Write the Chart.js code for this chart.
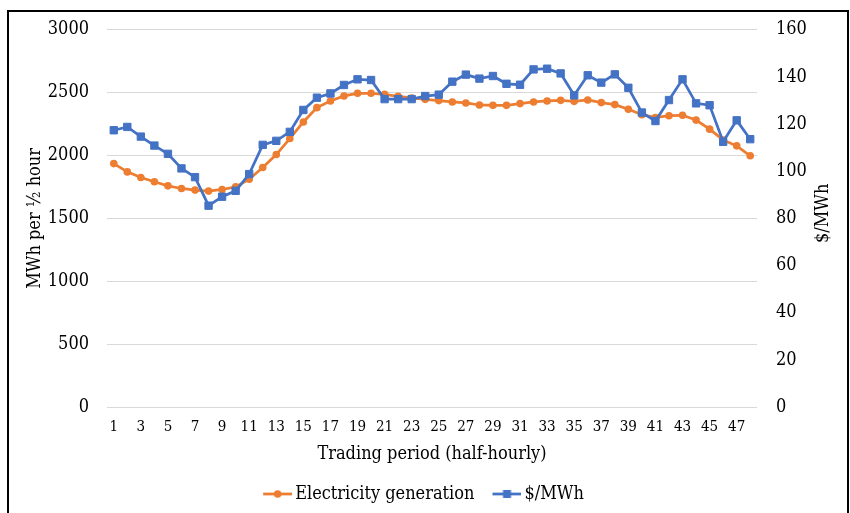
<!DOCTYPE html>
<html><head><meta charset="utf-8">
<script src="https://cdn.jsdelivr.net/npm/chart.js@4/dist/chart.umd.min.js"></script>
<style>html,body{margin:0;padding:0;background:#fff;} canvas{display:block;}</style>
</head><body>
<canvas id="c" width="850" height="513"></canvas>
<script>
const periods = ['1','2','3','4','5','6','7','8','9','10','11','12','13','14','15','16','17','18','19','20','21','22','23','24','25','26','27','28','29','30','31','32','33','34','35','36','37','38','39','40','41','42','43','44','45','46','47','48'];
const generation = [1936,1870,1825,1791,1759,1738,1725,1717,1730,1751,1812,1905,2008,2135,2267,2381,2434,2474,2495,2495,2487,2471,2458,2447,2437,2426,2418,2402,2399,2399,2413,2426,2434,2439,2431,2442,2421,2405,2368,2325,2302,2317,2320,2282,2210,2124,2077,1998];
const price = [117.4,118.8,114.7,110.9,107.4,101.2,97.5,85.4,89.2,91.7,98.8,111.2,112.9,116.7,126.0,131.2,133.0,136.6,139.0,138.7,130.6,130.6,130.6,131.9,132.5,138.0,141.0,139.3,140.4,137.1,136.7,143.2,143.5,141.5,132.2,140.7,137.6,141.1,135.4,124.9,121.3,130.2,139.0,128.8,128.0,112.5,121.6,113.6];
const seriesNames = ['Electricity generation','$/MWh'];
const xTitle = 'Trading period (half-hourly)';
const yLeftTitle = 'MWh per ½ hour';
const yRightTitle = '$/MWh';

const ORANGE = '#ED7D31', BLUE = '#4472C4';
const FONT = "'DejaVu Serif Condensed', 'Liberation Serif', serif";
Chart.defaults.font.family = FONT;
Chart.defaults.color = '#000';

function legendIcon(color, shape) {
  const c = document.createElement('canvas'); c.width = 32; c.height = 20;
  const g = c.getContext('2d');
  g.strokeStyle = color; g.lineWidth = 2.75;
  g.beginPath(); g.moveTo(3, 10); g.lineTo(32, 10); g.stroke();
  g.fillStyle = color;
  if (shape === 'circle') { g.beginPath(); g.arc(17.5, 10, 3.8, 0, Math.PI * 2); g.fill(); }
  else { g.fillRect(13.5, 6, 8, 8); }
  return c;
}
const icons = [legendIcon(ORANGE, 'circle'), legendIcon(BLUE, 'rect')];

const framePlugin = {
  id: 'frame',
  beforeDraw(chart) {
    const ctx = chart.ctx;
    ctx.save();
    ctx.fillStyle = '#fff';
    ctx.fillRect(0, 0, chart.width, chart.height);
    ctx.restore();
  },
  afterDraw(chart) {
    const ctx = chart.ctx;
    ctx.save();
    ctx.strokeStyle = '#000'; ctx.lineWidth = 2;
    ctx.strokeRect(8, 11, 840, 520);
    const a = chart.chartArea;
    ctx.fillStyle = '#000';
    ctx.font = "18px " + FONT;
    ctx.textAlign = 'center'; ctx.textBaseline = 'middle';
    ctx.translate(823, (a.top + a.bottom) / 2 - 5);
    ctx.rotate(-Math.PI / 2);
    ctx.fillText(yRightTitle, 0, 0);
    ctx.restore();
  }
};

new Chart(document.getElementById('c'), {
  type: 'line',
  data: {
    labels: periods,
    datasets: [
      { label: seriesNames[0], data: generation, yAxisID: 'y', borderColor: ORANGE, backgroundColor: ORANGE,
        borderWidth: 2.75, pointStyle: 'circle', pointRadius: 3.8, pointBorderWidth: 0, tension: 0, order: 1 },
      { label: seriesNames[1], data: price, yAxisID: 'y1', borderColor: BLUE, backgroundColor: BLUE,
        borderWidth: 2.75, pointStyle: 'rect', pointRadius: 5.2, pointBorderWidth: 1, tension: 0, order: 0 }
    ]
  },
  options: {
    responsive: false, animation: false, devicePixelRatio: 1,
    layout: { padding: { left: 0, right: 0, top: 27, bottom: 0 } },
    plugins: {
      tooltip: { enabled: false },
      legend: {
        position: 'bottom',
        labels: {
          usePointStyle: true, pointStyleWidth: 20, padding: 21,
          font: { size: 18 }, color: '#000',
          generateLabels: (chart) => seriesNames.map((n, i) => ({
            text: n, pointStyle: icons[i], fillStyle: i ? BLUE : ORANGE, strokeStyle: i ? BLUE : ORANGE,
            lineWidth: 0, hidden: false, datasetIndex: i, fontColor: '#000'
          }))
        }
      }
    },
    scales: {
      x: {
        offset: true,
        grid: { display: false, drawTicks: false },
        border: { display: false },
        ticks: { autoSkip: false, maxRotation: 0, padding: 11, font: { size: 15 }, color: '#000',
          callback: function (v, i) { return i % 2 === 0 ? this.getLabelForValue(v) : ''; } },
        title: { display: true, text: xTitle, font: { size: 18, lineHeight: 1 }, color: '#000', padding: { top: 0, bottom: 1 } },
        afterFit: (s) => { s.height = 57; }
      },
      y: {
        position: 'left', min: 0, max: 3000,
        grid: { color: '#d9d9d9', lineWidth: 1, drawTicks: false },
        border: { display: false },
        ticks: { stepSize: 500, padding: 18, font: { size: 18 }, color: '#000',
          callback: (v) => String(v) },
        title: { display: true, text: yLeftTitle, font: { size: 18, lineHeight: 1 }, color: '#000', padding: { top: 26, bottom: 0 } },
        afterFit: (s) => { s.width = 107; }
      },
      y1: {
        position: 'right', min: 0, max: 160,
        grid: { display: false, drawTicks: false },
        border: { display: false },
        ticks: { stepSize: 20, padding: 19, font: { size: 18 }, color: '#000', callback: (v) => String(v) },
        afterFit: (s) => { s.width = 93; }
      }
    }
  },
  plugins: [framePlugin]
});
</script>
</body></html>
